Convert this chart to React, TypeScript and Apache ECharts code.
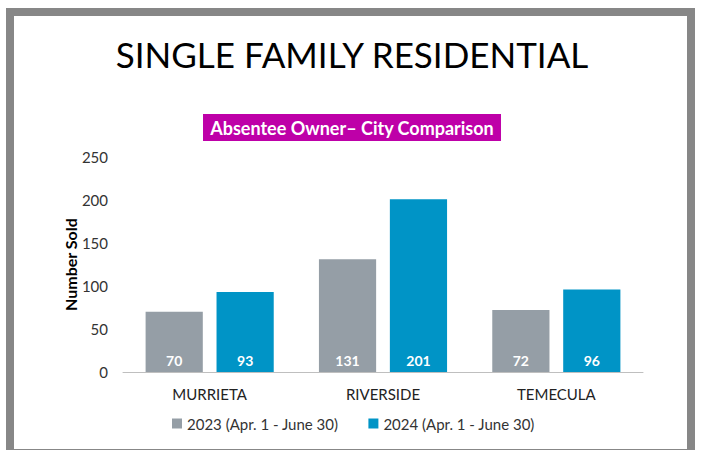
import React, { useEffect, useRef } from "react";
import * as echarts from "echarts";

const categories = ["MURRIETA", "RIVERSIDE", "TEMECULA"];
const seriesNames = ["2023 (Apr. 1 - June 30)", "2024 (Apr. 1 - June 30)"];
const values2023 = [70, 131, 72];
const values2024 = [93, 201, 96];
const yTicks = { min: 0, max: 250, interval: 50 };

const FONT = "Lato";

export default function App() {
  const ref = useRef<HTMLDivElement>(null);
  useEffect(() => {
    if (!ref.current) return;
    const chart = echarts.init(ref.current, null, { renderer: "svg" });
    const labelStyle = {
      show: true,
      position: "insideBottom",
      distance: 5,
      color: "#ffffff",
      fontWeight: "bold",
      fontSize: 14,
      fontFamily: FONT,
    };
    chart.setOption({
      animation: false,
      backgroundColor: "#ffffff",
      graphic: [
        {
          type: "rect",
          shape: { x: 10, y: 12, width: 681, height: 441 },
          style: { fill: "none", stroke: "#878787", lineWidth: 8 },
          silent: true,
        },
      ],
      title: [
        {
          text: "SINGLE FAMILY RESIDENTIAL",
          left: "center",
          top: 31,
          textStyle: { fontFamily: FONT, fontSize: 35, fontWeight: "normal", color: "#000000" },
        },
        {
          text: "Absentee Owner\u2013 City Comparison",
          left: "center",
          top: 114,
          backgroundColor: "#BE00A8",
          padding: [5, 7, 4, 7],
          textStyle: { fontFamily: FONT, fontSize: 18, fontWeight: "bold", color: "#ffffff" },
        },
      ],
      legend: {
        left: 167,
        top: 411,
        itemWidth: 10,
        itemHeight: 10,
        itemGap: 30,
        icon: "rect",
        textStyle: { fontFamily: FONT, fontSize: 15, color: "#333333" },
        data: seriesNames,
      },
      grid: { left: 123, right: 61, top: 157, bottom: 78 },
      xAxis: {
        type: "category",
        data: categories,
        axisLine: { lineStyle: { color: "#bfbfbf", width: 1 } },
        axisTick: { show: false },
        axisLabel: { fontFamily: FONT, fontSize: 15, color: "#222222", margin: 14 },
      },
      yAxis: {
        type: "value",
        min: yTicks.min,
        max: yTicks.max,
        interval: yTicks.interval,
        name: "Number Sold",
        nameLocation: "middle",
        nameMoveOverlap: false,
        nameGap: 45,
        nameTextStyle: { fontFamily: FONT, fontSize: 16, fontWeight: "bold", color: "#000000" },
        splitLine: { show: false },
        axisLine: { show: false },
        axisTick: { show: false },
        axisLabel: { fontFamily: FONT, fontSize: 15, color: "#333333", margin: 15 },
      },
      series: [
        {
          name: seriesNames[0],
          type: "bar",
          data: values2023,
          barWidth: "33%",
          barGap: "24%",
          itemStyle: { color: "#959EA6" },
          label: labelStyle,
        },
        {
          name: seriesNames[1],
          type: "bar",
          data: values2024,
          barWidth: "33%",
          itemStyle: { color: "#0094C6" },
          label: labelStyle,
        },
      ],
    });
    return () => chart.dispose();
  }, []);
  return (
    <div
      ref={ref}
      style={{ position: "fixed", left: 0, top: 0, width: 704, height: 450 }}
    />
  );
}
